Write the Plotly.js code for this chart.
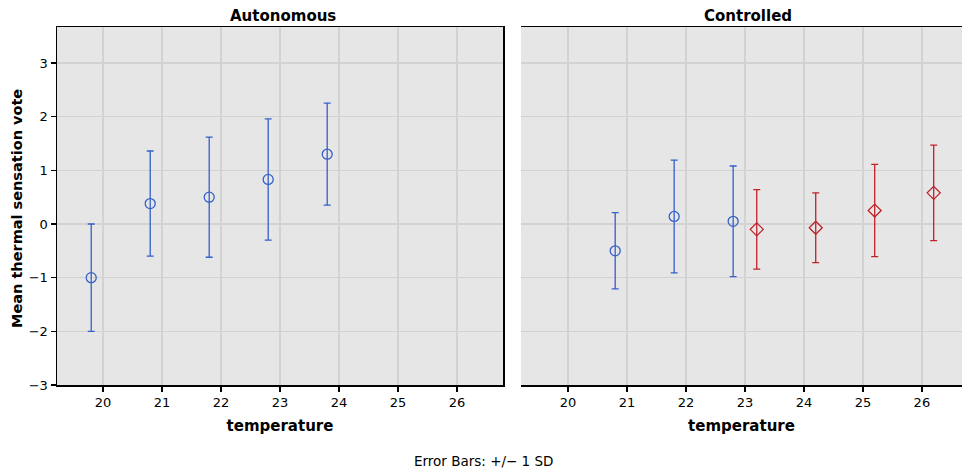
<!DOCTYPE html>
<html>
<head>
<meta charset="utf-8">
<script src="https://cdn.plot.ly/plotly-3.0.1.min.js"></script>
<style>html,body{margin:0;padding:0;background:#fff;overflow:hidden}#chart{width:962px;height:471px}</style>
</head>
<body>
<div id="chart"></div>
<script>
// Autonomous panel
const autoTemp = [19.8, 20.8, 21.8, 22.8, 23.8];
const autoMean = [-1.0, 0.38, 0.5, 0.83, 1.3];
const autoSD   = [1.0, 0.98, 1.12, 1.13, 0.95];
// Controlled panel, blue group
const ctrlBlueTemp = [20.8, 21.8, 22.8];
const ctrlBlueMean = [-0.5, 0.14, 0.05];
const ctrlBlueSD   = [0.71, 1.05, 1.03];
// Controlled panel, red group
const ctrlRedTemp = [23.2, 24.2, 25.2, 26.2];
const ctrlRedMean = [-0.1, -0.07, 0.25, 0.58];
const ctrlRedSD   = [0.74, 0.65, 0.86, 0.89];

const panelTitles = ["Autonomous", "Controlled"];
const xTicks = [20, 21, 22, 23, 24, 25, 26];
const yTicks = [-3, -2, -1, 0, 1, 2, 3];

const BLUE = "#3560c8", RED = "#c0222a";
const FONT = "DejaVu Sans, Verdana, sans-serif";

function series(x, y, sd, color, symbol, xa) {
  return {
    type: "scatter", mode: "markers", x: x, y: y, xaxis: xa, yaxis: "y",
    marker: {symbol: symbol, size: 10, color: color, line: {color: color, width: 1.3}},
    error_y: {type: "data", array: sd, visible: true, color: color, thickness: 1.3, width: 3.5},
    hoverinfo: "x+y", showlegend: false, cliponaxis: false
  };
}

const data = [
  series(autoTemp, autoMean, autoSD, BLUE, "circle-open", "x"),
  series(ctrlBlueTemp, ctrlBlueMean, ctrlBlueSD, BLUE, "circle-open", "x2"),
  series(ctrlRedTemp, ctrlRedMean, ctrlRedSD, RED, "diamond-open", "x2")
];

const W = 962, H = 471, L = 57, R = 0, T = 27, B = 86;
const PW = W - L - R, PH = H - T - B;
const d1 = [0, (503 - L) / PW];
const d2 = [(521 - L) / PW, 1];

const xBase = {
  tickvals: xTicks, ticks: "outside", ticklen: 5, tickwidth: 1.5, tickcolor: "#000",
  showgrid: true, gridcolor: "#d2d2d2", gridwidth: 1.5, zeroline: false,
  showline: true, linecolor: "#000", linewidth: 1.5, mirror: true,
  tickfont: {family: FONT, size: 13, color: "#000"},
  title: {text: "<b>temperature</b>", font: {family: FONT, size: 15, color: "#000"}, standoff: 11},
  fixedrange: true
};

const layout = {
  width: W, height: H,
  margin: {l: L, r: R, t: T, b: B, pad: 0},
  paper_bgcolor: "#fff", plot_bgcolor: "#e6e6e6",
  font: {family: FONT, color: "#000"},
  xaxis: Object.assign({}, xBase, {domain: d1, range: [19.22, 26.78], anchor: "y"}),
  xaxis2: Object.assign({}, xBase, {domain: d2, range: [19.203, 26.68], anchor: "y2"}),
  yaxis: {
    domain: [0, 1], range: [-3, 3.67], tickvals: yTicks,
    ticks: "outside", ticklen: 5, tickwidth: 1.5, tickcolor: "#000",
    showgrid: true, gridcolor: "#d2d2d2", gridwidth: 1.5, zeroline: false,
    showline: true, linecolor: "#000", linewidth: 1.5, mirror: true,
    tickfont: {family: FONT, size: 13, color: "#000"},
    fixedrange: true
  },
  yaxis2: {
    domain: [0, 1], range: [-3, 3.67], tickvals: yTicks, anchor: "x2", matches: "y",
    showticklabels: false, ticks: "",
    showgrid: true, gridcolor: "#d2d2d2", gridwidth: 1.5, zeroline: false,
    showline: true, linecolor: "#000", linewidth: 1.5, mirror: true,
    fixedrange: true
  },
  annotations: [
    {text: "<b>Mean thermal sensation vote</b>", xref: "paper", yref: "paper",
     x: (17 - L) / PW, y: (H - B - 209) / PH, xanchor: "center", yanchor: "middle", textangle: -90,
     showarrow: false, font: {family: FONT, size: 14.5, color: "#000"}},
    {text: "<b>" + panelTitles[0] + "</b>", xref: "paper", yref: "paper",
     x: (d1[0] + d1[1]) / 2, xshift: 3, y: 1, xanchor: "center", yanchor: "bottom",
     showarrow: false, font: {family: FONT, size: 15, color: "#000"}},
    {text: "<b>" + panelTitles[1] + "</b>", xref: "paper", yref: "paper",
     x: (d2[0] + d2[1]) / 2, xshift: 6, y: 1, xanchor: "center", yanchor: "bottom",
     showarrow: false, font: {family: FONT, size: 15, color: "#000"}},
    {text: "Error Bars: +/\u2212 1 SD", xref: "paper", yref: "paper",
     x: (483 - L) / PW, y: -(461 - (H - B)) / PH, xanchor: "center", yanchor: "middle",
     showarrow: false, font: {family: FONT, size: 13.5, color: "#000"}}
  ]
};

Plotly.newPlot("chart", data, layout, {displayModeBar: false, staticPlot: true});
</script>
</body>
</html>
